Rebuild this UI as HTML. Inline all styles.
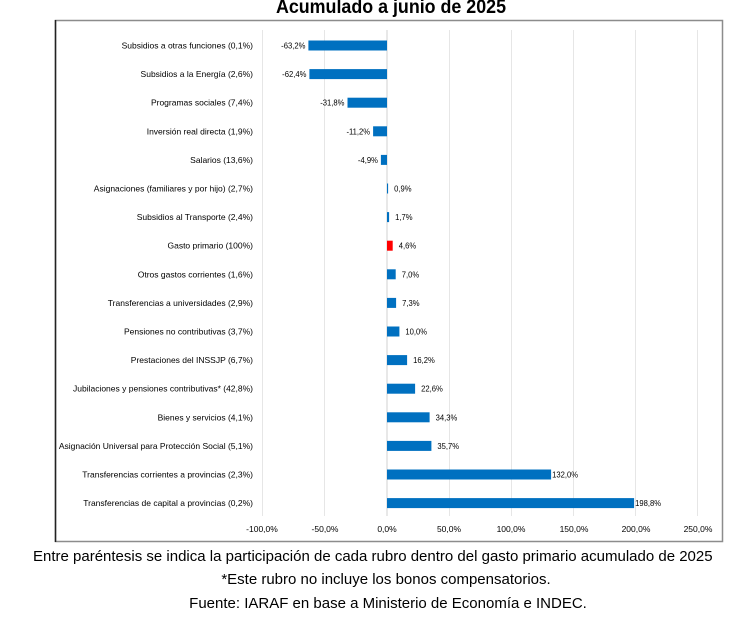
<!DOCTYPE html>
<html><head><meta charset="utf-8"><style>
html,body{margin:0;padding:0;background:#fff;}
body{width:730px;height:622px;overflow:hidden;}
svg{display:block;font-family:"Liberation Sans",sans-serif;}
</style></head><body>
<svg width="730" height="622" viewBox="0 0 730 622" xmlns="http://www.w3.org/2000/svg">
<text x="391" y="13" text-anchor="middle" font-size="19" font-weight="bold" fill="#000" transform="translate(391 0) scale(0.94 1) translate(-391 0)">Acumulado a junio de 2025</text>
<rect x="55.5" y="20.5" width="667" height="521" fill="none" stroke="#8c8c8c" stroke-width="1.5"/>
<line x1="55.5" y1="20" x2="55.5" y2="542" stroke="#222" stroke-width="1.5"/>
<g stroke="#e6e6e6" stroke-width="1">
<line x1="262.5" y1="30" x2="262.5" y2="516"/>
<line x1="324.5" y1="30" x2="324.5" y2="516"/>
<line x1="449.5" y1="30" x2="449.5" y2="516"/>
<line x1="511.5" y1="30" x2="511.5" y2="516"/>
<line x1="573.5" y1="30" x2="573.5" y2="516"/>
<line x1="635.5" y1="30" x2="635.5" y2="516"/>
<line x1="697.5" y1="30" x2="697.5" y2="516"/>
</g>
<line x1="387" y1="30" x2="387" y2="516" stroke="#d0d0d0" stroke-width="1"/>
<g font-size="8.5" fill="#000" text-anchor="middle">
<text x="262" y="532">-100,0%</text>
<text x="325" y="532">-50,0%</text>
<text x="387" y="532">0,0%</text>
<text x="449" y="532">50,0%</text>
<text x="511" y="532">100,0%</text>
<text x="574" y="532">150,0%</text>
<text x="636" y="532">200,0%</text>
<text x="698" y="532">250,0%</text>
</g>
<g id="rows" font-size="8.5" fill="#000"></g>
<g font-size="15" fill="#000" text-anchor="middle">
<text x="33" y="561" text-anchor="start">Entre paréntesis se indica la participación de cada rubro dentro del gasto primario acumulado de 2025</text>
<text x="386" y="584">*Este rubro no incluye los bonos compensatorios.</text>
<text x="388" y="608">Fuente: IARAF en base a Ministerio de Economía e INDEC.</text>
</g>
</svg>
<script>
var d=[["Subsidios a otras funciones (0,1%)",-63.2],["Subsidios a la Energía (2,6%)",-62.4],["Programas sociales (7,4%)",-31.8],["Inversión real directa (1,9%)",-11.2],["Salarios (13,6%)",-4.9],["Asignaciones (familiares y por hijo) (2,7%)",0.9],["Subsidios al Transporte (2,4%)",1.7],["Gasto primario (100%)",4.6],["Otros gastos corrientes (1,6%)",7.0],["Transferencias a universidades (2,9%)",7.3],["Pensiones no contributivas (3,7%)",10.0],["Prestaciones del INSSJP (6,7%)",16.2],["Jubilaciones y pensiones contributivas* (42,8%)",22.6],["Bienes y servicios (4,1%)",34.3],["Asignación Universal para Protección Social (5,1%)",35.7],["Transferencias corrientes a provincias (2,3%)",132.0],["Transferencias de capital a provincias (0,2%)",198.8]];
var g=document.getElementById("rows"),s="";
var x0=387,k=1.243;
d.forEach(function(r,i){
 var cy=45.5+i*28.6;
 var w=Math.abs(r[1])*k, x=r[1]<0?x0-w:x0;
 var col=r[0].indexOf("Gasto primario")==0?"#ff0000":"#0070c0";
 s+='<rect x="'+x.toFixed(1)+'" y="'+(cy-5).toFixed(1)+'" width="'+Math.max(w,1).toFixed(1)+'" height="10" fill="'+col+'"/>';
 s+='<text x="253" y="'+(cy+3).toFixed(1)+'" text-anchor="end">'+r[0]+'</text>';
 var v=r[1].toFixed(1).replace(".",",")+"%";
 if(r[1]<0){var tx=x-3;s+='<text x="'+tx.toFixed(1)+'" y="'+(cy+3).toFixed(1)+'" text-anchor="end" transform="translate('+tx.toFixed(1)+' 0) scale(0.9 1) translate('+(-tx).toFixed(1)+' 0)">'+v+'</text>';}
 else{var tx=x0+Math.max(w,1)+(r[1]>100?1:6);s+='<text x="'+tx.toFixed(1)+'" y="'+(cy+3).toFixed(1)+'" transform="translate('+tx.toFixed(1)+' 0) scale(0.9 1) translate('+(-tx).toFixed(1)+' 0)">'+v+'</text>';}
});
g.innerHTML=s;
</script>
</body></html>
